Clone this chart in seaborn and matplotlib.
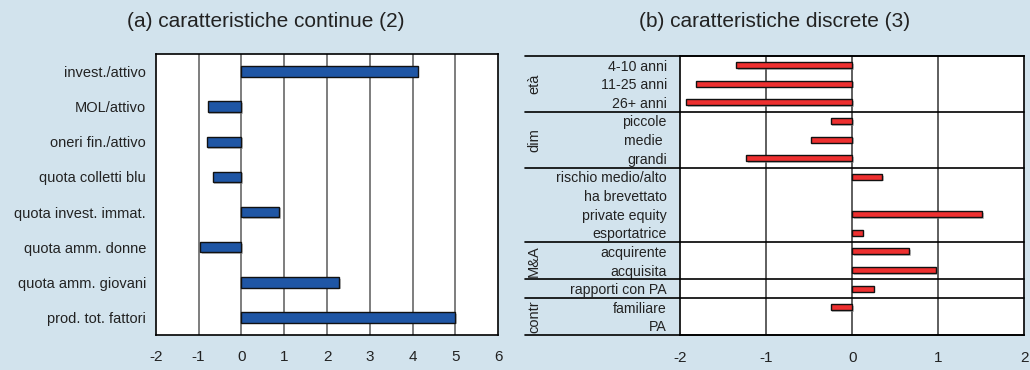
import numpy as np
import pandas as pd
import matplotlib
matplotlib.use("Agg")
import matplotlib.pyplot as plt
import matplotlib.patheffects as pe
import matplotlib.transforms as mtransforms
import seaborn as sns

# ---- data -------------------------------------------------------------
cont_labels = ["invest./attivo", "MOL/attivo", "oneri fin./attivo",
               "quota colletti blu", "quota invest. immat.",
               "quota amm. donne", "quota amm. giovani", "prod. tot. fattori"]
cont_values = [4.12, -0.79, -0.81, -0.67, 0.89, -0.96, 2.28, 5.0]

disc_labels = ["4-10 anni", "11-25 anni", "26+ anni",
               "piccole", "medie ", "grandi",
               "rischio medio/alto", "ha brevettato", "private equity",
               "esportatrice",
               "acquirente", "acquisita",
               "rapporti con PA",
               "familiare", "PA"]
disc_values = [-1.35, -1.81, -1.93,
               -0.25, -0.48, -1.23,
               0.35, 0.0, 1.51, 0.12,
               0.66, 0.97,
               0.25,
               -0.25, 0.0]

# groups of the discrete characteristics: (name, first row, last row)
disc_groups = [("età", 0, 2), ("dim", 3, 5), ("", 6, 9),
               ("M&A", 10, 11), ("", 12, 12), ("contr", 13, 14)]

cont_ticks = [-2, -1, 0, 1, 2, 3, 4, 5, 6]
disc_ticks = [-2, -1, 0, 1, 2]

# ---- style ------------------------------------------------------------
BG = "#D2E3ED"
BLUE = "#1F56A5"
RED = "#EE3030"
TXT = "#222222"

sns.set_theme(style="white")
plt.rcParams["font.family"] = ["Liberation Sans", "DejaVu Sans"]
plt.rcParams["text.color"] = TXT
plt.rcParams["xtick.color"] = TXT
plt.rcParams["ytick.color"] = TXT

fig = plt.figure(figsize=(10.3, 3.7), dpi=100, facecolor=BG)
ax1 = fig.add_axes([0.1512, 0.0946, 0.3326, 0.7595])
ax2 = fig.add_axes([0.6602, 0.0938, 0.3343, 0.7557])

shadow = [pe.SimplePatchShadow(offset=(1.2, -1.2), shadow_rgbFace="#888888", alpha=0.5),
          pe.Normal()]


def style_axis(ax, ticks, pad_y, grid_color):
    ax.set_facecolor("white")
    ax.set_xlim(ticks[0], ticks[-1])
    ax.set_xticks(ticks)
    ax.set_xticklabels([str(t) for t in ticks])
    ax.set_xlabel("")
    ax.set_ylabel("")
    ax.tick_params(axis="both", length=0, labelsize=10.5)
    ax.tick_params(axis="x", pad=11, labelsize=11)
    ax.tick_params(axis="y", pad=pad_y)
    for s in ax.spines.values():
        s.set_visible(True)
        s.set_color("black")
        s.set_linewidth(1.2)
    for t in ticks[1:-1]:
        ax.axvline(t, color=grid_color, lw=1.1, zorder=0)


# ---- panel (a): continuous characteristics ---------------------------
df_c = pd.DataFrame({"label": cont_labels, "value": cont_values})
sns.barplot(data=df_c, x="value", y="label", orient="h", ax=ax1,
            color=BLUE, saturation=1, width=0.3,
            edgecolor="#111111", linewidth=1.0, zorder=3)
ax1.set_ylim(len(cont_labels) - 0.5, -0.5)
style_axis(ax1, cont_ticks, 7, "#5a5a5a")
for p in ax1.patches:
    p.set_path_effects(shadow)

# ---- panel (b): discrete characteristics -----------------------------
df_d = pd.DataFrame({"label": disc_labels, "value": disc_values})
sns.barplot(data=df_d, x="value", y="label", orient="h", ax=ax2,
            color=RED, saturation=1, width=0.32,
            edgecolor="#111111", linewidth=1.0, zorder=3)
ax2.set_ylim(len(disc_labels) - 0.5, -0.5)
style_axis(ax2, disc_ticks, 9.5, "#333333")
for p in ax2.patches:
    if p.get_width() == 0:
        p.set_visible(False)
    p.set_path_effects(shadow)
ax2.tick_params(axis="y", labelsize=10.2)

# group separators running through the label column
trans = mtransforms.blended_transform_factory(ax2.transAxes, ax2.transData)
left_x = -0.45
for name, a, b in disc_groups:
    edge = b + 0.5
    ax2.plot([left_x, 1.0], [edge, edge], transform=trans, color="black",
             lw=1.2, clip_on=False, zorder=4)
    if name:
        ax2.text(-0.424, (a + b) / 2, name, transform=trans, rotation=90,
                 ha="center", va="center", fontsize=10.5, color=TXT)
ax2.plot([left_x, 1.0], [-0.5, -0.5], transform=trans, color="black",
         lw=1.2, clip_on=False, zorder=4)

# ---- titles -----------------------------------------------------------
fig.text(0.258, 0.943, "(a) caratteristiche continue (2)", ha="center",
         va="center", fontsize=15, color=TXT)
fig.text(0.752, 0.943, "(b) caratteristiche discrete (3)", ha="center",
         va="center", fontsize=15, color=TXT)

fig.savefig("out.png", dpi=100, facecolor=BG)
